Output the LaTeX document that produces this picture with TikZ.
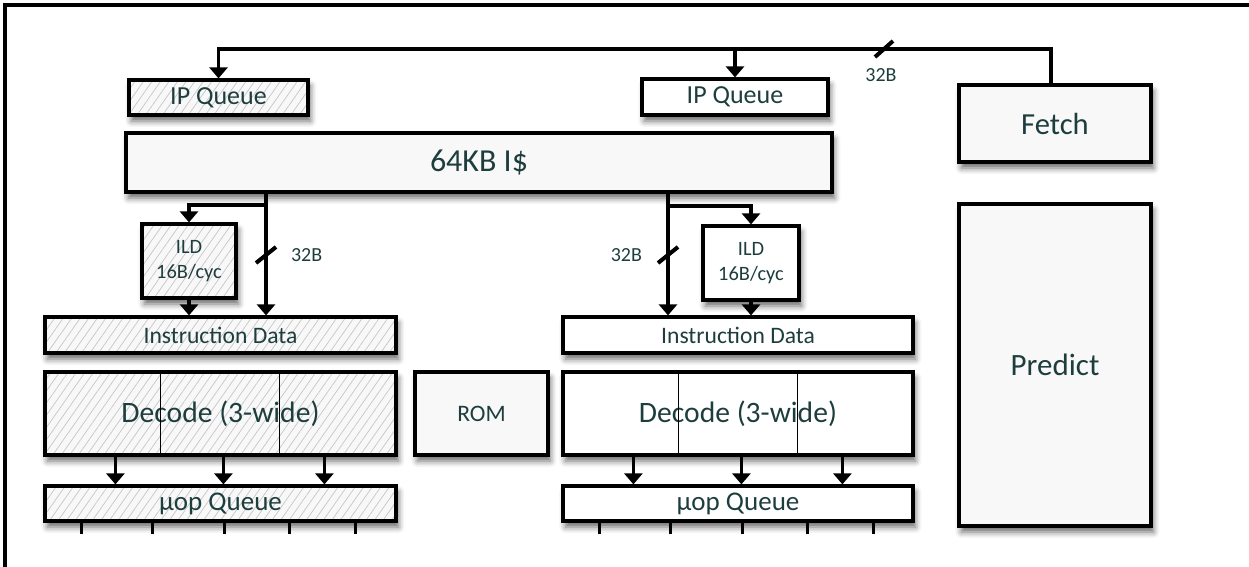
\documentclass[tikz,border=0pt]{standalone}
\usepackage{fontspec}
\setmainfont{Carlito}
\usetikzlibrary{arrows.meta,shadows.blur,patterns.meta,calc}
\definecolor{labeltext}{RGB}{30,62,62}
\definecolor{boxfill}{RGB}{248,248,248}
\tikzset{>={Triangle[width=9pt,length=5.5pt]}}
\tikzset{
  unit/.style={draw, line width=1.6pt, fill=white, text=labeltext, inner sep=0pt,
    blur shadow={shadow xshift=1.2pt, shadow yshift=-3pt, shadow blur radius=3pt, shadow opacity=60}},
  grayunit/.style={unit, fill=boxfill},
  hatched/.style={unit, draw=none, fill=boxfill,
    postaction={pattern={Lines[angle=55,distance=3.5pt,line width=0.35pt]}, pattern color=gray!45},
    postaction={draw, line width=1.6pt}},
  wire/.style={line width=1.6pt},
  tickmark/.style={line width=2pt},
  widthlabel/.style={text=labeltext, font=\fontsize{10}{11}\selectfont},
}

\begin{document}
\begin{tikzpicture}[x=0.5pt,y=-0.5pt]
  \useasboundingbox (0,0) rectangle (1249,567);
  \draw[line width=1.6pt] (5,567) |- (1249,5);

  % front end boxes
  \node[hatched, minimum width=89.5pt, minimum height=17.5pt, font=\fontsize{13}{14}\selectfont] (ipqL) at (218.5,97.5) {IP Queue};
  \node[unit, minimum width=93pt, minimum height=18pt, font=\fontsize{13}{14}\selectfont] (ipqR) at (735,97) {IP Queue};
  \node[grayunit, minimum width=353pt, minimum height=29.5pt, font=\fontsize{16}{18}\selectfont] (icache) at (479,162.5) {64KB I\$};
  \node[grayunit, minimum width=96pt, minimum height=38.5pt, font=\fontsize{15.3}{17}\selectfont] (fetch) at (1055,123.5) {Fetch};
  \node[grayunit, minimum width=96pt, minimum height=161pt, font=\fontsize{15.5}{17}\selectfont] (predict) at (1055,365) {Predict};
  \node[grayunit, minimum width=66.5pt, minimum height=41.5pt, font=\fontsize{11.8}{13}\selectfont] (rom) at (481.5,413.5) {ROM};

  % left decoder
  \node[hatched, minimum width=47pt, minimum height=37pt, align=center, font=\fontsize{10.2}{12.5}\selectfont] (ildL) at (189,261) {ILD\\16B/cyc};
  \node[hatched, minimum width=175.5pt, minimum height=18pt, font=\fontsize{11.8}{12}\selectfont] (idL) at (220.5,335) {Instruction Data};
  \node[hatched, minimum width=175.5pt, minimum height=41.5pt, font=\fontsize{14.8}{16}\selectfont] (decL) at (220.5,413.5) {Decode (3-wide)};
  \node[hatched, minimum width=175.5pt, minimum height=17.5pt, font=\fontsize{13.5}{14}\selectfont] (uopL) at (220.5,503.5) {µop Queue};

  % right decoder
  \node[unit, minimum width=48pt, minimum height=37pt, align=center, font=\fontsize{10.2}{12.5}\selectfont] (ildR) at (751,263) {ILD\\16B/cyc};
  \node[unit, minimum width=175pt, minimum height=18pt, font=\fontsize{11.8}{12}\selectfont] (idR) at (738,335) {Instruction Data};
  \node[unit, minimum width=175pt, minimum height=41.5pt, font=\fontsize{14.8}{16}\selectfont] (decR) at (738,413.5) {Decode (3-wide)};
  \node[unit, minimum width=175pt, minimum height=17.5pt, font=\fontsize{13.5}{14}\selectfont] (uopR) at (738,503.5) {µop Queue};

  % fetch bus
  \coordinate (bus) at (1051,49);
  \draw[wire,->] (bus |- fetch.north) -- (bus) -| (ipqL.north);
  \draw[wire,->] (ipqR.north |- bus) -- (ipqR.north);
  \coordinate (tickT) at (884,49);
  \draw[tickmark] ([shift={(-9,8)}]tickT) -- ([shift={(9,-8)}]tickT);
  \node[widthlabel] (wT) at (881,75) {32B};

  % cache to decoders
  \coordinate (tapL) at (266,205);
  \coordinate (tapR) at (668,206);
  \draw[wire,->] (tapL |- icache.south) -- (tapL |- idL.north);
  \draw[wire,->] (tapL) -| (ildL.north);
  \draw[wire,->] (ildL.south) -- (ildL.south |- idL.north);
  \draw[wire,->] (tapR |- icache.south) -- (tapR |- idR.north);
  \draw[wire,->] (tapR) -| (ildR.north);
  \draw[wire,->] (ildR.south) -- (ildR.south |- idR.north);
  \coordinate (tickL) at (266,255);
  \coordinate (tickR) at (668,255);
  \draw[tickmark] ([shift={(-10,8)}]tickL) -- ([shift={(10,-8)}]tickL);
  \draw[tickmark] ([shift={(-10,8)}]tickR) -- ([shift={(10,-8)}]tickR);
  \node[widthlabel, anchor=west] (wL) at (284,255) {32B};
  \node[widthlabel, anchor=east] (wR) at (649,255) {32B};

  % decode slots, uop paths
  \foreach \s in {L,R}{
    \foreach \d in {117,236}
      \draw[line width=0.8pt] ($(dec\s.north west)+(\d,0)$) -- ($(dec\s.south west)+(\d,0)$);
    \foreach \a in {72,180,281}
      \draw[wire,->] ($(dec\s.south west)+(\a,0)$) -- ($(uop\s.north west)+(\a,0)$);
    \foreach \t in {38,109,181,246,312}
      \draw[line width=1.1pt] ($(uop\s.south west)+(\t,0)$) -- ++(0,11);
  }
\end{tikzpicture}
\end{document}
